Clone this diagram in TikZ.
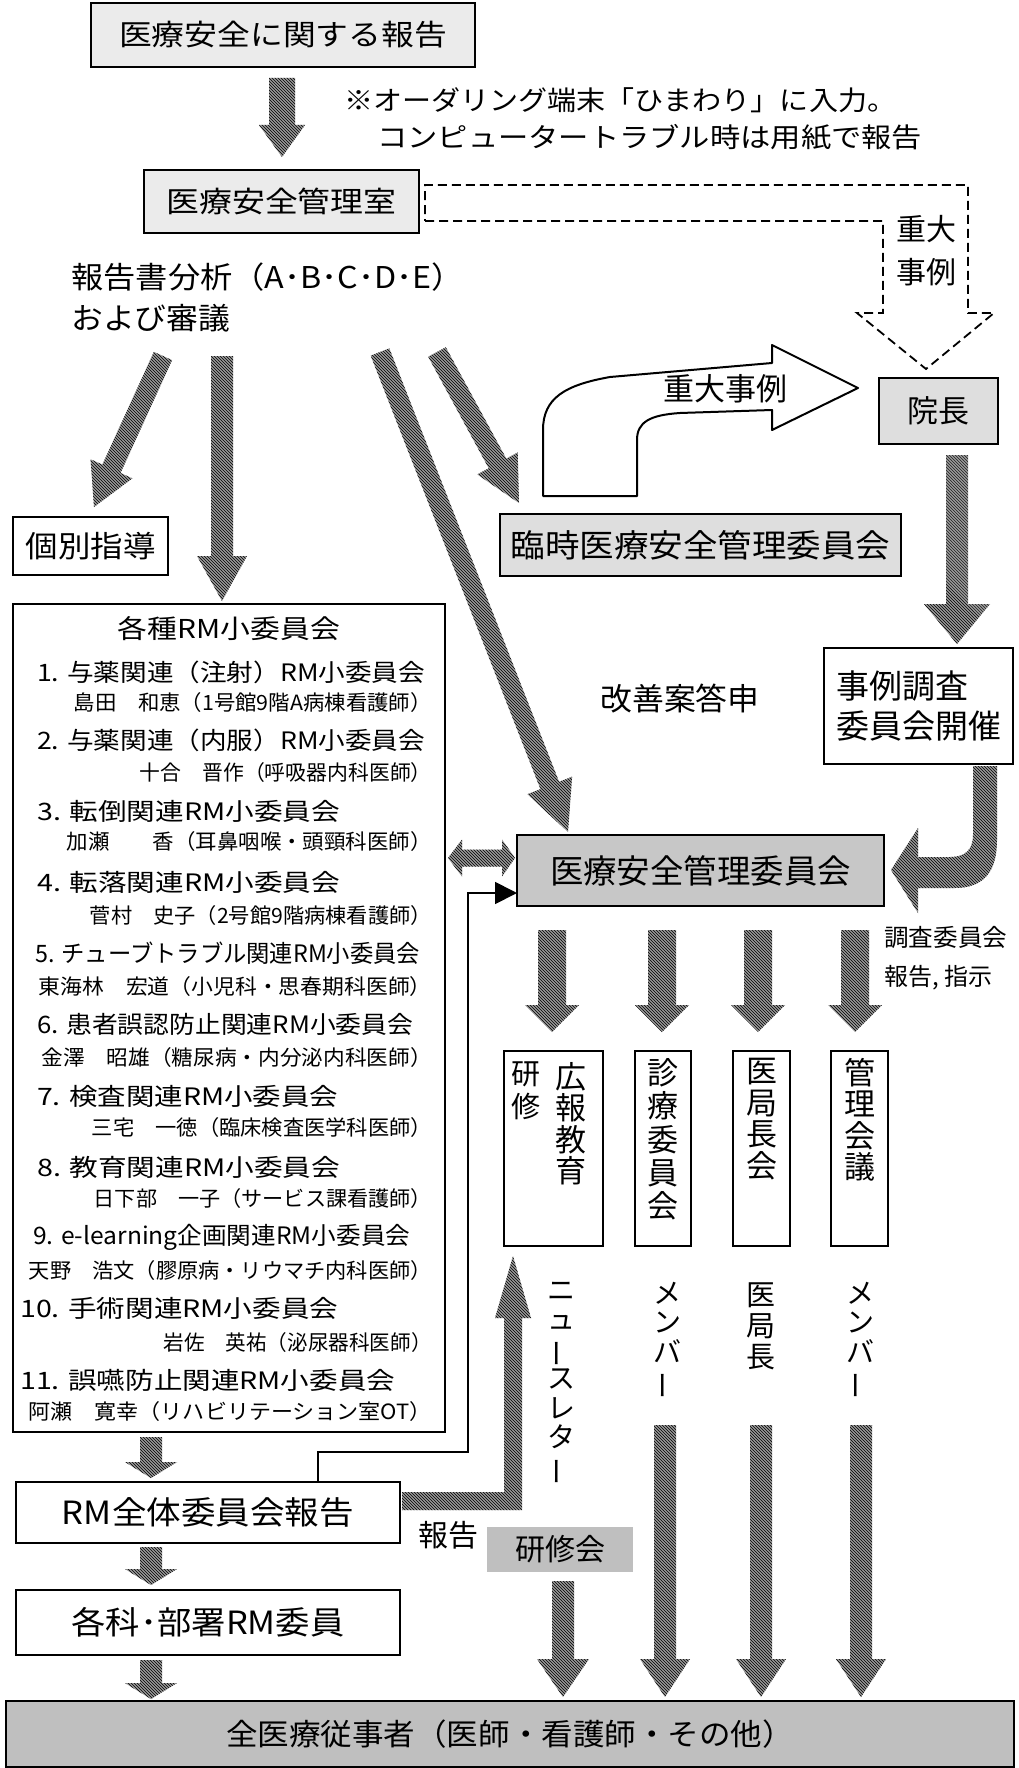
\documentclass[tikz,border=0pt]{standalone}
\usepackage{fontspec}
\setmainfont{Noto Sans CJK JP}
\usepackage{graphicx}
\usetikzlibrary{calc,patterns,arrows.meta}
\newcommand\fs[1]{\fontsize{#1}{#1}\selectfont}
\newcommand\vs[2]{\fontsize{#1}{#2}\selectfont}
\newcommand\fitw[2]{\resizebox{#1pt}{\height}{#2}}
\newcommand\vbar{\rotatebox[origin=c]{90}{ー}}
% hatched block arrow: from, to, half shaft, half head, head length
\newcommand\harrow[5]{%
  \coordinate (hb) at ($(#2)!#5pt!(#1)$);
  \path[hatch] ($(#1)!#3pt!90:(#2)$) -- ($(hb)!#3pt!90:(#2)$) -- ($(hb)!#4pt!90:(#2)$) -- (#2)
     -- ($(hb)!#4pt!-90:(#2)$) -- ($(hb)!#3pt!-90:(#2)$) -- ($(#1)!#3pt!-90:(#2)$) -- cycle;}
\begin{document}
\begin{tikzpicture}[x=1pt,y=-1pt,
  box/.style={draw=black, line width=2pt, inner sep=0pt, fill=white},
  txt/.style={inner sep=0pt},
  ttl/.style={txt, anchor=west, font=\fs{24}},
  nm/.style={txt, anchor=east, font=\fs{21}},
  hatch/.style={fill=black!40, postaction={pattern=north west lines, pattern color=black}},
  dsh/.style={draw=black, line width=1.8pt, dash pattern=on 9pt off 5pt},
  hollow/.style={draw=black, line width=2pt, fill=white, line join=round},
  thinline/.style={draw=black, line width=1.8pt},
]
\useasboundingbox (0,0) rectangle (1018,1768);
\fill[white] (0,0) rectangle (1018,1768);

% ---- top
\node[box, fill=black!8, minimum width=384pt, minimum height=64pt, font=\fs{29}] (hokoku) at (283,35) {\fitw{328}{医療安全に関する報告}};
\node[txt, anchor=west, font=\fs{27}] (note1) at (344,100) {\fitw{552}{※オーダリング端末「ひまわり」に入力。}};
\node[txt, anchor=west, font=\fs{27}] (note2) at (377,137) {\fitw{545}{コンピュータートラブル時は用紙で報告}};
\node[box, fill=black!8, minimum width=275pt, minimum height=63pt, font=\fs{29}] (shitsu) at (281.5,201.5) {\fitw{230}{医療安全管理室}};
\coordinate (a0s) at (282,78); \coordinate (a0e) at (282,157);
\harrow{a0s}{a0e}{13}{23}{32}

% dashed arrow to incho
\draw[dsh] ($(shitsu.east)+(5,19.5)$) -- (883,221) -- (883,313) -- (857,313) -- (926,369) -- (994,313) -- (968,313) -- (968,185) -- ($(shitsu.east)+(5,-16.5)$) -- cycle;
\node[txt, font=\vs{30}{43}, align=center] (juudai1) at (926,251) {重大\\事例};

% analysis
\node[txt, anchor=west, font=\fs{30}] (bunseki1) at (71,277) {\fitw{393}{報告書分析（A･B･C･D･E）}};
\node[txt, anchor=west, font=\fs{30}] (bunseki2) at (71,318) {\fitw{159}{および審議}};

\coordinate (a1s) at (163,356); \coordinate (a1e) at (94,507);
\coordinate (a2s) at (222,356); \coordinate (a2e) at (222,601);
\coordinate (a3s) at (380,352); \coordinate (a3e) at (568,832);
\coordinate (a4s) at (437,352); \coordinate (a4e) at (519,503);
\harrow{a1s}{a1e}{10}{23}{42}
\harrow{a2s}{a2e}{11}{25}{45}
\harrow{a3s}{a3e}{10}{24}{50}
\harrow{a4s}{a4e}{10}{23}{45}

\node[box, minimum width=155pt, minimum height=58pt, font=\fs{30}] (kobetsu) at (90.5,546) {\fitw{130}{個別指導}};
\node[box, fill=black!13, minimum width=401pt, minimum height=62pt, font=\fs{32}] (rinji) at (700.5,545) {\fitw{380}{臨時医療安全管理委員会}};
\node[box, fill=black!13, minimum width=119pt, minimum height=66pt, font=\fs{31}] (incho) at (938.5,411) {院長};

% hollow curved arrow
\draw[hollow] (543,496) -- (543,430) .. controls (543,398) and (565,385) .. (610,377) -- (772,363) -- (772,345) -- (858,388) -- (772,430) -- (772,410) -- (680,413) .. controls (650,415) and (637,422) .. (637,440) -- (637,496) -- cycle;
\node[txt, font=\fs{31}] (juudai2) at (725,389) {重大事例};

\coordinate (a5s) at (957,455); \coordinate (a5e) at (957,644);
\harrow{a5s}{a5e}{11}{33}{40}

\node[box, minimum width=189pt, minimum height=116pt, font=\vs{33}{40}, align=left] (jirei) at (918.5,706) {事例調査\\委員会開催};
\node[txt, font=\fs{31}] (kaizen) at (680,699) {\fitw{159}{改善案答申}};

% ---- RM list
\node[box, minimum width=432pt, minimum height=828pt] (rmlist) at (229,1018) {};
\node[txt, font=\fs{26}] (rmhead) at (229,629) {\fitw{222}{各種RM小委員会}};
\node[ttl] (t1) at (37,672) {\fitw{388}{1. 与薬関連（注射）RM小委員会}};
\node[nm] (n1) at (432,703) {\fitw{358}{島田　和恵（1号館9階A病棟看護師）}};
\node[ttl] (t2) at (37,740) {\fitw{388}{2. 与薬関連（内服）RM小委員会}};
\node[nm] (n2) at (432,773) {\fitw{292}{十合　晋作（呼吸器内科医師）}};
\node[ttl] (t3) at (37,811) {\fitw{303}{3. 転倒関連RM小委員会}};
\node[nm] (n3) at (432,842) {\fitw{365}{加瀬　　香（耳鼻咽喉・頭頸科医師）}};
\node[ttl] (t4) at (37,882) {\fitw{303}{4. 転落関連RM小委員会}};
\node[nm] (n4) at (432,916) {\fitw{342}{菅村　史子（2号館9階病棟看護師）}};
\node[ttl] (t5) at (35,953) {\fitw{385}{5. チューブトラブル関連RM小委員会}};
\node[nm] (n5) at (432,987) {\fitw{393}{東海林　宏道（小児科・思春期科医師）}};
\node[ttl] (t6) at (37,1024) {\fitw{376}{6. 患者誤認防止関連RM小委員会}};
\node[nm] (n6) at (432,1058) {\fitw{390}{金澤　昭雄（糖尿病・内分泌内科医師）}};
\node[ttl] (t7) at (37,1096) {\fitw{301}{7. 検査関連RM小委員会}};
\node[nm] (n7) at (432,1128) {\fitw{340}{三宅　一徳（臨床検査医学科医師）}};
\node[ttl] (t8) at (37,1167) {\fitw{303}{8. 教育関連RM小委員会}};
\node[nm] (n8) at (432,1199) {\fitw{338}{日下部　一子（サービス課看護師）}};
\node[ttl] (t9) at (33,1237) {\fitw{377}{9. e-learning企画関連RM小委員会}};
\node[nm] (n9) at (432,1271) {\fitw{403}{天野　浩文（膠原病・リウマチ内科医師）}};
\node[ttl] (t10) at (20,1308) {\fitw{318}{10. 手術関連RM小委員会}};
\node[nm] (n10) at (432,1343) {\fitw{268}{岩佐　英祐（泌尿器科医師）}};
\node[ttl] (t11) at (20,1380) {\fitw{375}{11. 誤嚥防止関連RM小委員会}};
\node[nm] (n11) at (432,1412) {\fitw{403}{阿瀬　寛幸（リハビリテーション室OT）}};

% ---- central committee
\node[box, fill=black!22, minimum width=367pt, minimum height=71pt, font=\fs{33}] (kanri) at (700.5,870.5) {\fitw{301}{医療安全管理委員会}};
% double arrow
\path[hatch] ($(rmlist.east)+(2,-160)$) -- (462,839.5) -- (462,849.5) -- (502,849.5) -- (502,839.5) -- ($(kanri.west)+(-1,-12.5)$) -- (502,876.5) -- (502,866.5) -- (462,866.5) -- (462,876.5) -- cycle;
% curved arrow from jirei
\path[hatch] ($(jirei.south)+(54.5,1)$) -- (973,835) .. controls (973,850) and (965,857) .. (950,857) -- (918,857) -- (918,828) -- ($(kanri.east)+(6,-0.5)$) -- (918,913) -- (918,888) -- (955,888) .. controls (985,888) and (997,870) .. (997,840) -- ($(jirei.south)+(78.5,1)$) -- cycle;
\node[txt, anchor=west, font=\fs{24}] (tyousa1) at (884,937) {\fitw{123}{調査委員会}};
\node[txt, anchor=west, font=\fs{24}] (tyousa2) at (884,978) {報告, 指示};

\foreach \x in {552,662,758,855} {
  \coordinate (ks) at (\x,930); \coordinate (ke) at (\x,1032);
  \harrow{ks}{ke}{14}{27}{27}
}

% vertical boxes
\node[box, minimum width=99pt, minimum height=195pt] (koho) at (553.5,1148.5) {};
\node[txt, anchor=north, font=\vs{29}{32.5}, align=center] (kenshu) at (526,1062) {研\\修};
\node[txt, anchor=north, font=\vs{31}{31.5}, align=center] (kohotxt) at (571,1062) {広\\報\\教\\育};
\node[box, minimum width=56pt, minimum height=195pt] (shinryo) at (663,1148.5) {};
\node[txt, anchor=north, font=\vs{31}{33.4}, align=center] (shinryotxt) at (663,1058) {診\\療\\委\\員\\会};
\node[box, minimum width=57pt, minimum height=195pt] (ikyoku) at (761.5,1148.5) {};
\node[txt, anchor=north, font=\vs{31}{31.5}, align=center] (ikyokutxt) at (761.5,1058) {医\\局\\長\\会};
\node[box, minimum width=57pt, minimum height=195pt] (kaigi) at (859.5,1148.5) {};
\node[txt, anchor=north, font=\vs{31}{31.5}, align=center] (kaigitxt) at (859.5,1058) {管\\理\\会\\議};

% labels below boxes
\node[txt, anchor=north, font=\vs{28}{29.5}, align=center] (news) at (561,1282) {ニ\\ュ\\\vbar\\ス\\レ\\タ\\\vbar};
\node[txt, anchor=north, font=\vs{28}{29.5}, align=center] (mem1) at (667,1282) {メ\\ン\\バ\\\vbar};
\node[txt, anchor=north, font=\vs{29}{31}, align=center] (ikyokucho) at (761,1283) {医\\局\\長};
\node[txt, anchor=north, font=\vs{28}{29.5}, align=center] (mem2) at (860,1282) {メ\\ン\\バ\\\vbar};

% ---- left column bottom
\node[box, minimum width=384pt, minimum height=61pt, font=\fs{32}] (rmzentai) at (208,1512.5) {\fitw{292}{RM全体委員会報告}};
\node[box, minimum width=384pt, minimum height=65pt, font=\fs{32}] (kakka) at (208,1622.5) {\fitw{273}{各科･部署RM委員}};
\node[box, fill=black!25, minimum width=1008pt, minimum height=66pt, font=\fs{30}] (zen) at (510,1734) {\fitw{568}{全医療従事者（医師・看護師・その他）}};

\coordinate (s1s) at (151,1437); \coordinate (s1e) at (151,1478);
\coordinate (s2s) at (151,1547); \coordinate (s2e) at (151,1585);
\coordinate (s3s) at (151,1660); \coordinate (s3e) at (151,1699);
\harrow{s1s}{s1e}{11}{26}{16}
\harrow{s2s}{s2e}{11}{26}{16}
\harrow{s3s}{s3e}{11}{26}{16}

% thin connector RM -> committee
\coordinate (c1) at ($(rmzentai.north)+(110,0)$);
\coordinate (c2) at (468,1452);
\coordinate (c3) at (517,893);
\draw[thinline, -{Triangle[length=22pt,width=22pt]}] (c1) |- (c2) |- (c3);

% newsletter up arrow
\path[hatch] ($(rmzentai.east)+(1,-20.5)$) -- (504,1492) -- (504,1318) -- (495,1318) -- ($(koho.south)+(-40.5,9)$) -- (531,1318) -- (522,1318) -- (522,1510) -- ($(rmzentai.east)+(1,-2.5)$) -- cycle;

\node[txt, font=\fs{30}] (hokoku2) at (448,1535) {報告};
\node[fill=black!25, inner sep=0pt, minimum width=146pt, minimum height=45pt, font=\fs{30}] (kenshukai) at (560,1549.5) {研修会};

\coordinate (k1s) at (563,1581); \coordinate (k1e) at (563,1697);
\harrow{k1s}{k1e}{11}{26}{38}
\foreach \x in {665,761,861} {
  \coordinate (ls) at (\x,1425); \coordinate (le) at (\x,1697);
  \harrow{ls}{le}{11}{25}{38}
}
\end{tikzpicture}
\end{document}
